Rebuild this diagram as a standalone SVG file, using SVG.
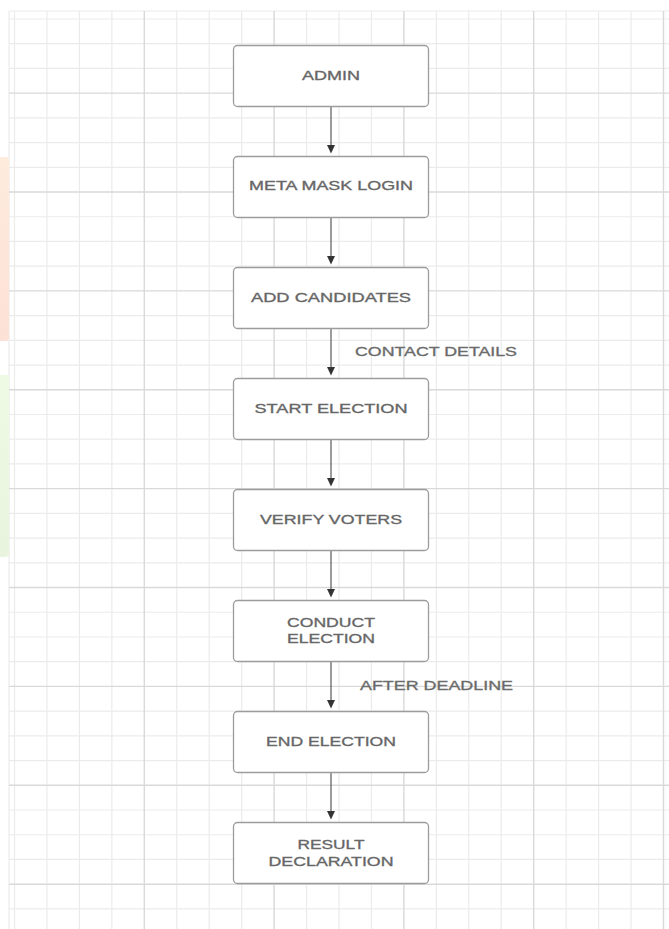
<svg xmlns="http://www.w3.org/2000/svg" width="669" height="929" viewBox="0 0 669 929">
  <defs>
    <linearGradient id="peach" x1="0" y1="0" x2="0" y2="1">
      <stop offset="0" stop-color="#fdebdc"/>
      <stop offset="1" stop-color="#fde1d6"/>
    </linearGradient>
    <linearGradient id="green" x1="0" y1="0" x2="0" y2="1">
      <stop offset="0" stop-color="#eefae4"/>
      <stop offset="1" stop-color="#e8f4de"/>
    </linearGradient>
    <style>
      .minor { stroke: #ebebeb; stroke-width: 1.2; }
      .major { stroke: #d9d9d9; stroke-width: 1.4; }
      .box { fill: #ffffff; stroke: #9c9c9c; stroke-width: 1.3; }
      .lbl { font-family: "Liberation Sans", Arial, sans-serif; font-size: 13.5px; fill: #626262; stroke: #6e6e6e; stroke-width: 0.35; text-anchor: middle; }
      .elbl { font-family: "Liberation Sans", Arial, sans-serif; font-size: 13.5px; fill: #666666; stroke: #727272; stroke-width: 0.35; }
      .conn { stroke: #4a4a4a; stroke-width: 1.1; fill: none; }
      .head { fill: #333333; }
    </style>
  </defs>

  <rect width="669" height="929" fill="#ffffff"/>

  <g id="grid">
    <rect x="9" y="11" width="660" height="918" fill="#ffffff"/>
    <g class="minor">
      <line x1="9" y1="11" x2="669" y2="11"/>
      <line x1="9" y1="11" x2="9" y2="929"/>
      <line x1="14.5" y1="11" x2="14.5" y2="929"/>
      <line x1="46.95" y1="11" x2="46.95" y2="929"/>
      <line x1="79.4" y1="11" x2="79.4" y2="929"/>
      <line x1="111.85" y1="11" x2="111.85" y2="929"/>
      <line x1="176.75" y1="11" x2="176.75" y2="929"/>
      <line x1="209.2" y1="11" x2="209.2" y2="929"/>
      <line x1="241.65" y1="11" x2="241.65" y2="929"/>
      <line x1="306.55" y1="11" x2="306.55" y2="929"/>
      <line x1="339" y1="11" x2="339" y2="929"/>
      <line x1="371.45" y1="11" x2="371.45" y2="929"/>
      <line x1="436.35" y1="11" x2="436.35" y2="929"/>
      <line x1="468.8" y1="11" x2="468.8" y2="929"/>
      <line x1="501.25" y1="11" x2="501.25" y2="929"/>
      <line x1="566.15" y1="11" x2="566.15" y2="929"/>
      <line x1="598.6" y1="11" x2="598.6" y2="929"/>
      <line x1="631.05" y1="11" x2="631.05" y2="929"/>
      <line x1="9" y1="19" x2="669" y2="19"/>
      <line x1="9" y1="43.7" x2="669" y2="43.7"/>
      <line x1="9" y1="68.42" x2="669" y2="68.42"/>
      <line x1="9" y1="117.86" x2="669" y2="117.86"/>
      <line x1="9" y1="142.58" x2="669" y2="142.58"/>
      <line x1="9" y1="167.3" x2="669" y2="167.3"/>
      <line x1="9" y1="216.74" x2="669" y2="216.74"/>
      <line x1="9" y1="241.46" x2="669" y2="241.46"/>
      <line x1="9" y1="266.18" x2="669" y2="266.18"/>
      <line x1="9" y1="315.62" x2="669" y2="315.62"/>
      <line x1="9" y1="340.34" x2="669" y2="340.34"/>
      <line x1="9" y1="365.06" x2="669" y2="365.06"/>
      <line x1="9" y1="414.5" x2="669" y2="414.5"/>
      <line x1="9" y1="439.22" x2="669" y2="439.22"/>
      <line x1="9" y1="463.94" x2="669" y2="463.94"/>
      <line x1="9" y1="513.38" x2="669" y2="513.38"/>
      <line x1="9" y1="538.1" x2="669" y2="538.1"/>
      <line x1="9" y1="562.82" x2="669" y2="562.82"/>
      <line x1="9" y1="612.26" x2="669" y2="612.26"/>
      <line x1="9" y1="636.98" x2="669" y2="636.98"/>
      <line x1="9" y1="661.7" x2="669" y2="661.7"/>
      <line x1="9" y1="711.14" x2="669" y2="711.14"/>
      <line x1="9" y1="735.86" x2="669" y2="735.86"/>
      <line x1="9" y1="760.58" x2="669" y2="760.58"/>
      <line x1="9" y1="810.02" x2="669" y2="810.02"/>
      <line x1="9" y1="834.74" x2="669" y2="834.74"/>
      <line x1="9" y1="859.46" x2="669" y2="859.46"/>
      <line x1="9" y1="908.9" x2="669" y2="908.9"/>
    </g>
    <g class="major">
      <line x1="144.3" y1="11" x2="144.3" y2="929"/>
      <line x1="274.1" y1="11" x2="274.1" y2="929"/>
      <line x1="403.9" y1="11" x2="403.9" y2="929"/>
      <line x1="533.7" y1="11" x2="533.7" y2="929"/>
      <line x1="663.5" y1="11" x2="663.5" y2="929"/>
      <line x1="9" y1="93.14" x2="669" y2="93.14"/>
      <line x1="9" y1="192.02" x2="669" y2="192.02"/>
      <line x1="9" y1="290.9" x2="669" y2="290.9"/>
      <line x1="9" y1="389.78" x2="669" y2="389.78"/>
      <line x1="9" y1="488.66" x2="669" y2="488.66"/>
      <line x1="9" y1="587.54" x2="669" y2="587.54"/>
      <line x1="9" y1="686.42" x2="669" y2="686.42"/>
      <line x1="9" y1="785.3" x2="669" y2="785.3"/>
      <line x1="9" y1="884.18" x2="669" y2="884.18"/>
    </g>
  </g>

  <g id="side-marks">
    <path d="M-5,157 H6 Q9,157 9,160 V338 Q9,341 6,341 H-5 Z" fill="url(#peach)"/>
    <path d="M-5,375 H9 V553 Q9,557 5,557 H-5 Z" fill="url(#green)"/>
  </g>

  <g id="connectors">
    <line class="conn" x1="331" y1="106.5" x2="331" y2="146"/>
    <polygon class="head" points="327,145 335,145 331,153.5"/>
    <line class="conn" x1="331" y1="217.5" x2="331" y2="257"/>
    <polygon class="head" points="327,256 335,256 331,264.5"/>
    <line class="conn" x1="331" y1="328.5" x2="331" y2="368"/>
    <polygon class="head" points="327,367 335,367 331,375.5"/>
    <line class="conn" x1="331" y1="439.5" x2="331" y2="479"/>
    <polygon class="head" points="327,478 335,478 331,486.5"/>
    <line class="conn" x1="331" y1="550.5" x2="331" y2="590"/>
    <polygon class="head" points="327,589 335,589 331,597.5"/>
    <line class="conn" x1="331" y1="661.5" x2="331" y2="701"/>
    <polygon class="head" points="327,700 335,700 331,708.5"/>
    <line class="conn" x1="331" y1="772.5" x2="331" y2="812"/>
    <polygon class="head" points="327,811 335,811 331,819.5"/>
    <text class="elbl" x="355" y="356" textLength="162" lengthAdjust="spacingAndGlyphs">CONTACT DETAILS</text>
    <text class="elbl" x="360" y="690" textLength="153" lengthAdjust="spacingAndGlyphs">AFTER DEADLINE</text>
  </g>

  <g id="node-admin">
    <rect class="box" x="233.5" y="45.5" width="195" height="61" rx="4"/>
    <text class="lbl" x="331" y="79.5" textLength="58" lengthAdjust="spacingAndGlyphs">ADMIN</text>
  </g>
  <g id="node-metamask">
    <rect class="box" x="233.5" y="156.5" width="195" height="61" rx="4"/>
    <text class="lbl" x="331" y="190" textLength="164" lengthAdjust="spacingAndGlyphs">META MASK LOGIN</text>
  </g>
  <g id="node-add-candidates">
    <rect class="box" x="233.5" y="267.5" width="195" height="61" rx="4"/>
    <text class="lbl" x="331" y="301.5" textLength="160" lengthAdjust="spacingAndGlyphs">ADD CANDIDATES</text>
  </g>
  <g id="node-start-election">
    <rect class="box" x="233.5" y="378.5" width="195" height="61" rx="4"/>
    <text class="lbl" x="331" y="412.5" textLength="153" lengthAdjust="spacingAndGlyphs">START ELECTION</text>
  </g>
  <g id="node-verify-voters">
    <rect class="box" x="233.5" y="489.5" width="195" height="61" rx="4"/>
    <text class="lbl" x="331" y="523.5" textLength="142" lengthAdjust="spacingAndGlyphs">VERIFY VOTERS</text>
  </g>
  <g id="node-conduct-election">
    <rect class="box" x="233.5" y="600.5" width="195" height="61" rx="4"/>
    <text class="lbl" x="331" y="626.7" textLength="88" lengthAdjust="spacingAndGlyphs">CONDUCT</text>
    <text class="lbl" x="331" y="643.3" textLength="88" lengthAdjust="spacingAndGlyphs">ELECTION</text>
  </g>
  <g id="node-end-election">
    <rect class="box" x="233.5" y="711.5" width="195" height="61" rx="4"/>
    <text class="lbl" x="331" y="745.5" textLength="130" lengthAdjust="spacingAndGlyphs">END ELECTION</text>
  </g>
  <g id="node-result">
    <rect class="box" x="233.5" y="822.5" width="195" height="61" rx="4"/>
    <text class="lbl" x="331" y="849.3" textLength="67" lengthAdjust="spacingAndGlyphs">RESULT</text>
    <text class="lbl" x="331" y="866" textLength="125" lengthAdjust="spacingAndGlyphs">DECLARATION</text>
  </g>
</svg>
